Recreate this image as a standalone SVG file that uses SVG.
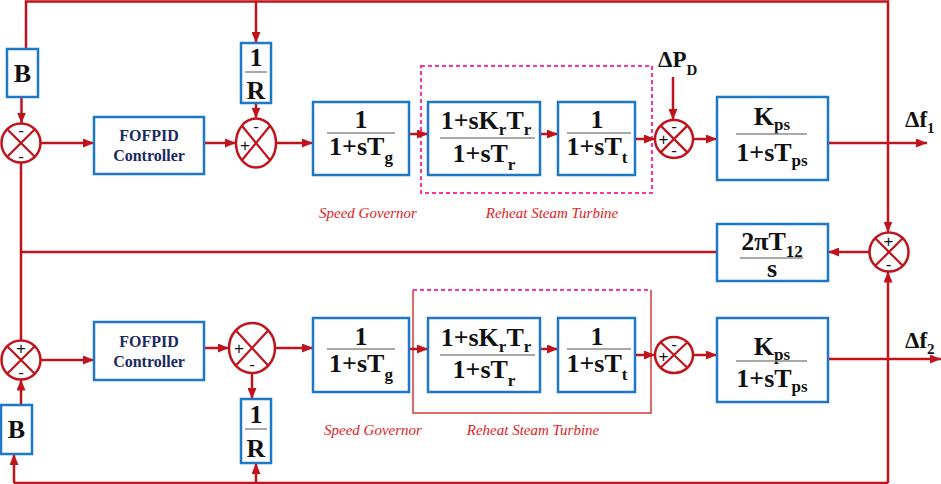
<svg xmlns="http://www.w3.org/2000/svg" width="941" height="484" viewBox="0 0 941 484">
<defs>
<marker id="ah" markerUnits="userSpaceOnUse" markerWidth="11" markerHeight="9" refX="11" refY="4.5" orient="auto">
<path d="M0,0 L11,4.5 L0,9 z" fill="#C0141C"/>
</marker>
<style>
.ln{fill:none;stroke:#C0141C;stroke-width:2.5}
.ar{fill:none;stroke:#C0141C;stroke-width:2.5;marker-end:url(#ah)}
.bx{fill:#fff;stroke:#1E78C8;stroke-width:2.5}
.se{fill:#fff;stroke:#C0141C;stroke-width:2.5}
.sx{stroke:#C0141C;stroke-width:2.2}
.fr{stroke:#8c8c8c;stroke-width:1.5}
.tf{font-family:'Liberation Serif','Times New Roman',serif;font-weight:bold;font-size:26px;fill:#111;text-anchor:middle}
.sub{font-size:17px}
.ctl{font-family:'Liberation Serif','Times New Roman',serif;font-weight:bold;font-size:16px;fill:#1b2a5e;text-anchor:middle}
.sg{font-family:'Liberation Sans',Arial,sans-serif;font-size:17px;fill:#111;text-anchor:middle;dominant-baseline:central}
.lb{font-family:'Liberation Serif','Times New Roman',serif;font-style:italic;font-size:15px;fill:#E31B23;text-anchor:middle}
.dash{fill:none;stroke:#FF3399;stroke-width:2;stroke-dasharray:4 3}
.thin{fill:none;stroke:#D43A3A;stroke-width:1.5}
.out{font-family:'Liberation Serif','Times New Roman',serif;font-weight:bold;font-size:23px;fill:#111}
</style>
</defs>

<g id="area-boxes">
<rect class="dash" x="421" y="66" width="231" height="127"/>
<path class="thin" d="M413,290 V413 H651 V290"/>
<path class="dash" d="M413,290 H651"/>
</g>

<g id="connectors">
<path class="ar" d="M26,49 V1.5 H888 V232.5"/>
<path class="ar" d="M256,1.5 V43"/>
<path class="ar" d="M21.5,97 V123.5"/>
<path class="ar" d="M40.5,143 H94"/>
<path class="ar" d="M204,143 H236"/>
<path class="ar" d="M256,103 V118.5"/>
<path class="ar" d="M276,143 H313"/>
<path class="ar" d="M409,134 H428"/>
<path class="ar" d="M540,134 H558"/>
<path class="ar" d="M635,139 H655"/>
<path class="ar" d="M673,77 V120"/>
<path class="ar" d="M693,139 H717"/>
<path class="ar" d="M828,143 H927"/>
<path class="ar" d="M869.5,252 H828"/>
<path class="ln" d="M717,252 H21"/>
<path class="ln" d="M21,162.5 V340.5"/>
<path class="ar" d="M40.5,360 H94"/>
<path class="ar" d="M21,405 V379.5"/>
<path class="ar" d="M204,348 H229"/>
<path class="ar" d="M252,373 V399"/>
<path class="ar" d="M275,348 H313"/>
<path class="ar" d="M409,349 H428"/>
<path class="ar" d="M540,349 H558"/>
<path class="ar" d="M635,355 H655"/>
<path class="ar" d="M693,355 H717"/>
<path class="ar" d="M828,359 H941"/>
<path class="ar" d="M888,483 V271.5"/>
<path class="ln" d="M14,483 H888"/>
<path class="ar" d="M14,483 V454"/>
<path class="ar" d="M256,483 V463"/>
</g>

<g id="B1"><rect class="bx" x="7" y="49" width="31" height="48"/><text class="tf" x="22.5" y="82">B</text></g>
<g id="R1"><rect class="bx" x="241" y="43" width="30" height="60"/><text class="tf" x="256" y="66">1</text><line class="fr" x1="245" y1="72" x2="267" y2="72"/><text class="tf" x="256" y="99">R</text></g>
<g id="FOFPID1"><rect class="bx" x="94" y="117" width="110" height="57"/><text class="ctl" x="149" y="141">FOFPID</text><text class="ctl" x="149" y="161">Controller</text></g>
<g id="Gov1"><rect class="bx" x="313" y="102" width="96" height="73"/><text class="tf" x="361" y="128">1</text><line class="fr" x1="327" y1="133" x2="395" y2="133"/><text class="tf" x="361" y="155">1+sT<tspan class="sub" dy="8">g</tspan></text></g>
<g id="Reheat1"><rect class="bx" x="428" y="102" width="112" height="73"/><text class="tf" x="486" y="129">1+sK<tspan class="sub" dy="6">r</tspan><tspan dy="-6">T</tspan><tspan class="sub" dy="6">r</tspan></text><line class="fr" x1="440" y1="138" x2="535" y2="138"/><text class="tf" x="484" y="162">1+sT<tspan class="sub" dy="8">r</tspan></text></g>
<g id="Tt1"><rect class="bx" x="558" y="102" width="77" height="73"/><text class="tf" x="597" y="128">1</text><line class="fr" x1="567" y1="133" x2="631" y2="133"/><text class="tf" x="597" y="155">1+sT<tspan class="sub" dy="8">t</tspan></text></g>
<g id="Kps1"><rect class="bx" x="717" y="97" width="111" height="83"/><text class="tf" x="772" y="125">K<tspan class="sub" dy="5">ps</tspan></text><line class="fr" x1="736" y1="134" x2="807" y2="134"/><text class="tf" x="772" y="161">1+sT<tspan class="sub" dy="5">ps</tspan></text></g>
<g id="T12"><rect class="bx" x="717" y="224" width="111" height="57"/><text class="tf" x="772" y="250">2πT<tspan class="sub" dy="7">12</tspan></text><line class="fr" x1="740" y1="258" x2="803" y2="258"/><text class="tf" x="772" y="277">s</text></g>

<g id="B2"><rect class="bx" x="1" y="405" width="31" height="49"/><text class="tf" x="16.5" y="438">B</text></g>
<g id="R2"><rect class="bx" x="241" y="399" width="30" height="64"/><text class="tf" x="256" y="423">1</text><line class="fr" x1="245" y1="429" x2="267" y2="429"/><text class="tf" x="256" y="457">R</text></g>
<g id="FOFPID2"><rect class="bx" x="94" y="322" width="110" height="58"/><text class="ctl" x="149" y="347">FOFPID</text><text class="ctl" x="149" y="367">Controller</text></g>
<g id="Gov2"><rect class="bx" x="313" y="318" width="96" height="74"/><text class="tf" x="361" y="345">1</text><line class="fr" x1="327" y1="349" x2="395" y2="349"/><text class="tf" x="361" y="372">1+sT<tspan class="sub" dy="8">g</tspan></text></g>
<g id="Reheat2"><rect class="bx" x="428" y="318" width="112" height="74"/><text class="tf" x="486" y="346">1+sK<tspan class="sub" dy="6">r</tspan><tspan dy="-6">T</tspan><tspan class="sub" dy="6">r</tspan></text><line class="fr" x1="440" y1="355" x2="535" y2="355"/><text class="tf" x="484" y="378">1+sT<tspan class="sub" dy="8">r</tspan></text></g>
<g id="Tt2"><rect class="bx" x="558" y="318" width="77" height="74"/><text class="tf" x="597" y="345">1</text><line class="fr" x1="567" y1="349" x2="631" y2="349"/><text class="tf" x="597" y="372">1+sT<tspan class="sub" dy="8">t</tspan></text></g>
<g id="Kps2"><rect class="bx" x="717" y="318" width="111" height="84"/><text class="tf" x="772" y="355">K<tspan class="sub" dy="5">ps</tspan></text><line class="fr" x1="736" y1="361" x2="807" y2="361"/><text class="tf" x="772" y="387">1+sT<tspan class="sub" dy="5">ps</tspan></text></g>

<g id="S1"><ellipse class="se" cx="21" cy="143" rx="19.5" ry="19.5"/><path class="sx" d="M7.2,129.2 L34.8,156.8 M34.8,129.2 L7.2,156.8"/><text class="sg" x="21" y="130">-</text><text class="sg" x="21" y="156">-</text></g>
<g id="S2"><ellipse class="se" cx="256" cy="143" rx="20" ry="24.5"/><path class="sx" d="M241.9,125.7 L270.1,160.3 M270.1,125.7 L241.9,160.3"/><text class="sg" x="256" y="126">-</text><text class="sg" x="245" y="145">+</text></g>
<g id="S3"><ellipse class="se" cx="674" cy="139" rx="19" ry="19"/><path class="sx" d="M660.6,125.6 L687.4,152.4 M687.4,125.6 L660.6,152.4"/><text class="sg" x="674" y="126">-</text><text class="sg" x="663.5" y="139">+</text><text class="sg" x="674" y="150">-</text></g>
<g id="S4"><ellipse class="se" cx="889" cy="252" rx="19.5" ry="19.5"/><path class="sx" d="M875.2,238.2 L902.8,265.8 M902.8,238.2 L875.2,265.8"/><text class="sg" x="888.5" y="241">+</text><text class="sg" x="888.5" y="264">-</text></g>
<g id="S5"><ellipse class="se" cx="21" cy="360" rx="19.5" ry="19.5"/><path class="sx" d="M7.2,346.2 L34.8,373.8 M34.8,346.2 L7.2,373.8"/><text class="sg" x="21" y="348">+</text><text class="sg" x="21" y="372">-</text></g>
<g id="S6"><ellipse class="se" cx="252" cy="348" rx="23" ry="25"/><path class="sx" d="M235.7,330.3 L268.3,365.7 M268.3,330.3 L235.7,365.7"/><text class="sg" x="239" y="348">+</text><text class="sg" x="252" y="364">-</text></g>
<g id="S7"><ellipse class="se" cx="674" cy="355" rx="19" ry="18"/><path class="sx" d="M660.6,342.3 L687.4,367.7 M687.4,342.3 L660.6,367.7"/><text class="sg" x="674" y="344">-</text><text class="sg" x="663.5" y="356">+</text></g>

<g id="labels">
<text class="lb" x="368" y="218">Speed Governor</text>
<text class="lb" x="552" y="218">Reheat Steam Turbine</text>
<text class="lb" x="373" y="435">Speed Governor</text>
<text class="lb" x="533" y="435">Reheat Steam Turbine</text>
<text class="out" x="658" y="67">ΔP<tspan font-size="15" dy="8">D</tspan></text>
<text class="out" x="905" y="127">Δf<tspan font-size="15" dy="6">1</tspan></text>
<text class="out" x="905" y="348">Δf<tspan font-size="15" dy="6">2</tspan></text>
</g>
</svg>
